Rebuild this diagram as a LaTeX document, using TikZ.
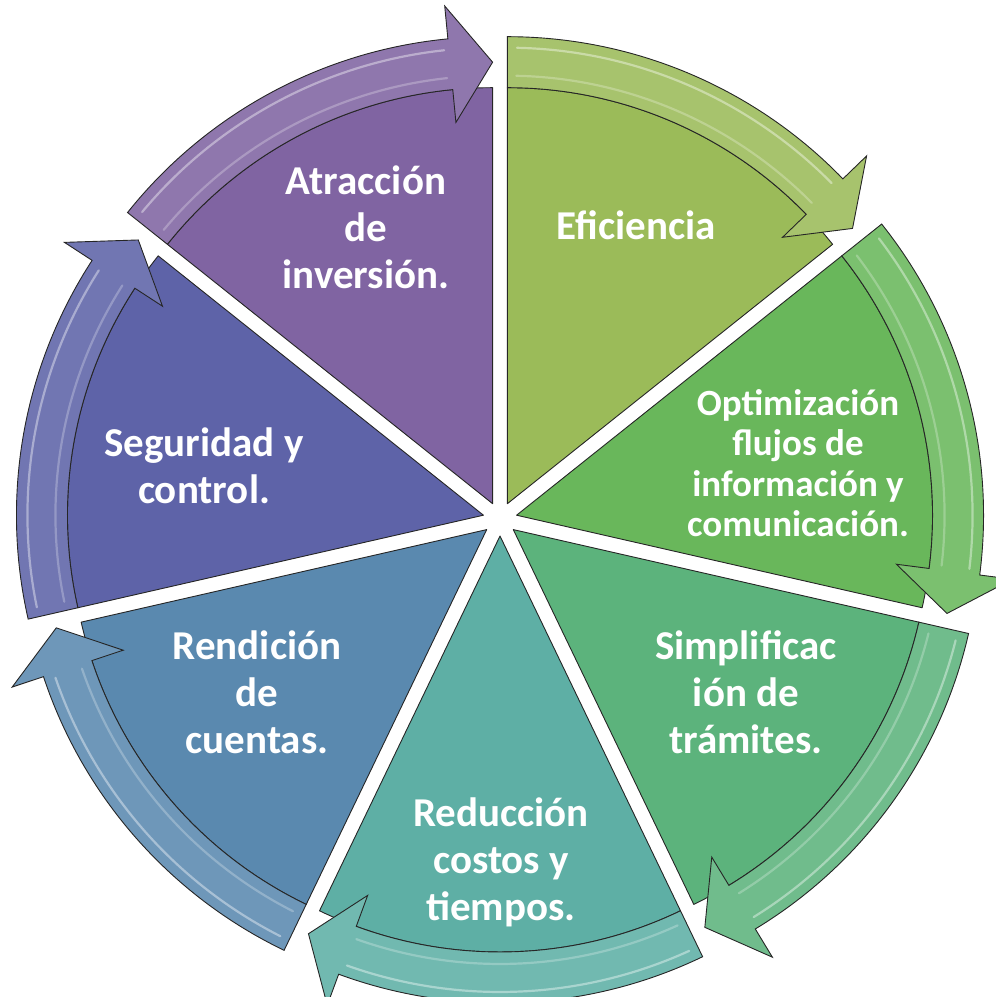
\documentclass[tikz,border=0pt]{standalone}
\usepackage{fontspec}
\setmainfont{Carlito}
\begin{document}
\begin{tikzpicture}[x=1pt,y=1pt]
\useasboundingbox (0,0) rectangle (996,997);
% centre of the wheel and radii
\def\cx{500}\def\cy{478}
\def\rw{416}\def\ro{467}\def\rm{441.5}\def\rhi{500}\def\rlo{383}
\def\off{17}\def\hd{5.5}
\definecolor{c0}{HTML}{9BBB59}
\definecolor{c1}{HTML}{69B75B}
\definecolor{c2}{HTML}{5CB37C}
\definecolor{c3}{HTML}{5EAFA5}
\definecolor{c4}{HTML}{5A89AF}
\definecolor{c5}{HTML}{5E63A8}
\definecolor{c6}{HTML}{8064A2}
\tikzset{
  wedge/.style={draw=black!85, line width=0.9pt, line join=round},
  band/.style={draw=black!85, line width=0.9pt, line join=miter},
  gloss/.style={white, opacity=0.4, line width=2.2pt, line cap=round},
  label/.style={text=white, font=\fontsize{41}{47}\selectfont\bfseries, align=center, inner sep=0pt},
}
% seven exploded pie slices, each with a curved arrow on its rim
\foreach \k/\col in {0/c0,1/c1,2/c2,3/c3,4/c4,5/c5,6/c6} {
  \pgfmathsetmacro\ts{90-360/7*\k}
  \pgfmathsetmacro\te{\ts-360/7}
  \pgfmathsetmacro\tm{\ts-180/7}
  \pgfmathsetmacro\tb{\te+\hd}
  \pgfmathsetmacro\ox{\cx+\off*cos(\tm)}
  \pgfmathsetmacro\oy{\cy+\off*sin(\tm)}
  \begin{scope}[shift={(\ox,\oy)}]
    \filldraw[wedge, fill=\col] (0,0) -- (\ts:\rw pt)
      arc[start angle=\ts, end angle=\te, radius=\rw pt] -- cycle;
    \filldraw[band, fill=\col!88!white] (\ts:\ro pt)
      arc[start angle=\ts, end angle=\tb, radius=\ro pt]
      -- (\tb:\rhi pt) -- (\te:\rm pt) -- (\tb:\rlo pt) -- (\tb:\rw pt)
      arc[start angle=\tb, end angle=\ts, radius=\rw pt] -- cycle;
    \draw[gloss] (\ts-1.2:\ro pt-11pt)
      arc[start angle=\ts-1.2, end angle=\tb+0.6, radius=\ro pt-11pt];
    \draw[gloss, opacity=0.25] (\ts-1.2:\rw pt+12pt)
      arc[start angle=\ts-1.2, end angle=\tb+0.6, radius=\rw pt+12pt];
  \end{scope}
}
% slice captions
\node[label] (eficiencia) at (636,772) {Eficiencia};
\node[label, font=\fontsize{37}{40.5}\selectfont\bfseries] (optimizacion) at (798,534)
  {Optimización\\flujos de\\información y\\comunicación.};
\node[label] (simplificacion) at (746,305) {Simplificac\\ión de\\trámites.};
\node[label] (reduccion) at (501,135) {Reducción\\costos y\\tiempos.};
\node[label] (rendicion) at (257,305) {Rendición\\de\\cuentas.};
\node[label] (seguridad) at (204,531) {Seguridad y\\control.};
\node[label] (atraccion) at (366,770) {Atracción\\de\\inversión.};
\end{tikzpicture}
\end{document}
